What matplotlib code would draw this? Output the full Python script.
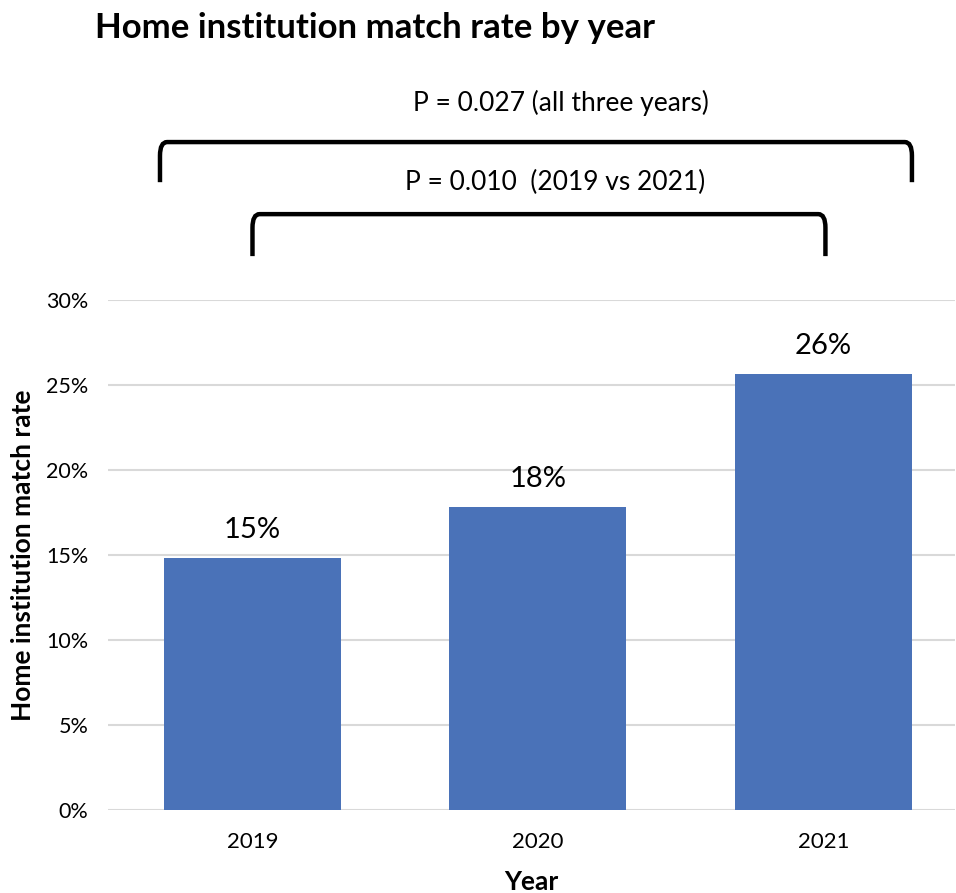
import matplotlib
matplotlib.use('Agg')
import matplotlib.pyplot as plt
from matplotlib.path import Path
from matplotlib.patches import PathPatch

years = ['2019', '2020', '2021']
match_rate = [0.148, 0.178, 0.2565]
value_labels = ['15%', '18%', '26%']
y_ticks = [0, 0.05, 0.10, 0.15, 0.20, 0.25, 0.30]
y_tick_labels = ['0%', '5%', '10%', '15%', '20%', '25%', '30%']
p_all = 'P = 0.027 (all three years)'
p_pair = 'P = 0.010  (2019 vs 2021)'

plt.rcParams['font.family'] = ['Lato', 'DejaVu Sans']

fig = plt.figure(figsize=(9.56, 8.93), dpi=100)
ax = fig.add_axes([0.113, 0.0929, 0.886, 0.571])

x = list(range(len(years)))
ax.bar(x, match_rate, width=0.62, color='#4A72B8', zorder=2)
for xi, v, lab in zip(x, match_rate, value_labels):
    ax.text(xi, v + 0.009, lab, ha='center', va='bottom', fontsize=21, color='black')

ax.set_xlim(-0.506, 2.461)
ax.set_ylim(0, 0.30)
ax.set_yticks(y_ticks)
ax.set_yticklabels(y_tick_labels, fontsize=15.5)
ax.set_xticks(x)
ax.set_xticklabels(years, fontsize=16)
ax.tick_params(length=0)
ax.tick_params(axis='x', pad=16)
ax.tick_params(axis='y', pad=14)
ax.grid(axis='y', color='#D9D9D9', linewidth=1.5, zorder=0)
for s in ax.spines.values():
    s.set_visible(False)

ax.set_ylabel('Home institution match rate', fontsize=19, fontweight='bold', labelpad=8)
ax.set_xlabel('Year', fontsize=19, fontweight='bold', labelpad=13)


def bracket(x0, x1, ytop, ybot):
    rx, ry = 0.025, 0.008
    verts = [(x0, ybot), (x0, ytop - ry), (x0, ytop), (x0 + rx, ytop),
             (x1 - rx, ytop), (x1, ytop), (x1, ytop - ry), (x1, ybot)]
    codes = [Path.MOVETO, Path.LINETO, Path.CURVE3, Path.CURVE3,
             Path.LINETO, Path.CURVE3, Path.CURVE3, Path.LINETO]
    ax.add_patch(PathPatch(Path(verts, codes), fill=False, lw=3.2,
                           edgecolor='black', clip_on=False, capstyle='butt'))


bracket(-0.324, 2.31, 0.393, 0.3694)
bracket(0.0, 2.007, 0.3506, 0.3259)
ax.text(1.08, 0.416, p_all, ha='center', va='center', fontsize=19)
ax.text(1.06, 0.369, p_pair, ha='center', va='center', fontsize=19)

fig.text(95 / 956, 1 - 28 / 893, 'Home institution match rate by year',
         ha='left', va='center', fontsize=25, fontweight='bold')

fig.savefig('out.png', dpi=100)
